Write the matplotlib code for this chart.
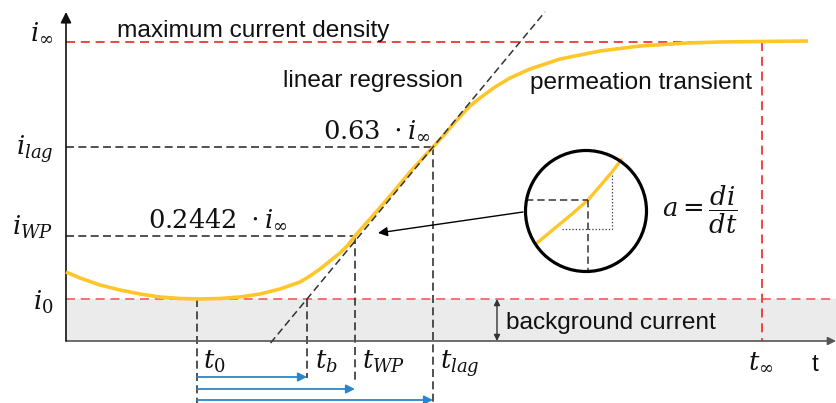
import matplotlib.pyplot as plt
from matplotlib.patches import Circle, Rectangle

# Characteristic times and current levels of the transient (arbitrary units)
T0 = 13.1
TB = 24.1
TWP = 28.9
TLAG = 36.7
TINF = 69.6

I0 = 4.2
IWP = 10.5
ILAG = 19.4
IINF = 29.9

curve_t = [0.0, 1.4, 3.4, 5.4, 7.4, 9.4, 11.4, 13.4, 15.4, 17.4, 19.4, 21.4, 23.4,
           24.4, 25.4, 26.4, 27.4, 28.2, 28.9, 29.6, 30.4, 32.4, 34.4, 36.7,
           37.9, 38.9, 40.4, 41.4, 42.9, 44.4, 46.4, 49.4, 53.4, 57.4, 62.1,
           65.4, 69.4, 74.2]
curve_i = [6.9, 6.3, 5.6, 5.1, 4.7, 4.4, 4.25, 4.2, 4.25, 4.4, 4.7, 5.2, 5.9,
           6.5, 7.2, 8.0, 8.8, 9.6, 10.5, 11.3, 12.2, 14.5, 16.9, 19.4,
           20.7, 21.9, 23.5, 24.3, 25.4, 26.3, 27.2, 28.2, 29.0, 29.5, 29.8,
           29.9, 29.95, 30.0]

# Magnified piece of the curve shown in the circular inset
zoom_t = [47.1, 48.9, 50.6, 52.2, 53.4, 54.6, 55.5]
zoom_i = [9.8, 11.3, 12.7, 14.1, 15.5, 16.9, 18.1]

YELLOW = "#ffc629"
BLUE = "#2a86c9"
RED = "#f03535"
PINK = "#f06a6a"
DARK = "#333333"

T_MAX = 77.1
I_MIN = -6.3

plt.rcParams["mathtext.fontset"] = "dejavuserif"
plt.rcParams["font.family"] = ["Liberation Sans", "DejaVu Sans"]

BLACK_DASH = (0, (4.8, 2.6))
RED_DASH = (0, (5.0, 3.2))


def _arrow(ax, start, end, *, color, lw=1.2, scale=14, style="-|>") -> None:
    ax.annotate("", xy=end, xytext=start,
                arrowprops=dict(arrowstyle=style, color=color, lw=lw,
                                mutation_scale=scale, shrinkA=0, shrinkB=0))


def main() -> None:
    fig = plt.figure(figsize=(8.37, 4.03), dpi=100)
    ax = fig.add_axes([0, 0, 1, 1])
    ax.set_xlim(-6.6, T_MAX)
    ax.set_ylim(-6.2, 34.1)
    ax.axis("off")

    # background current band and the two reference levels
    ax.add_patch(Rectangle((0, 0), T_MAX, I0, color="#ebebeb", lw=0, zorder=0))
    ax.plot([0, T_MAX], [I0, I0], color=PINK, lw=1.3, ls=RED_DASH)
    ax.plot([0, TINF], [IINF, IINF], color=RED, lw=1.3, ls=RED_DASH)
    ax.plot([TINF, TINF], [IINF, 0], color=RED, lw=1.3, ls=RED_DASH)

    # axes with arrow tips
    _arrow(ax, (0, 0), (T_MAX - 0.1, 0), color="#555555", lw=1.2, scale=12)
    _arrow(ax, (0, 0), (0, 32.9), color="#111111", lw=1.2, scale=16)

    # linear regression through t_b and the lag point
    slope = (ILAG - I0) / (TLAG - TB)
    reg_i = [-0.2, 32.9]
    reg_t = [TB + (v - I0) / slope for v in reg_i]
    ax.plot(reg_t, reg_i, color=DARK, lw=1.1, ls=BLACK_DASH, zorder=4)

    # helper lines to the characteristic points
    ax.plot([0, TLAG], [ILAG, ILAG], color=DARK, lw=1.2, ls=BLACK_DASH)
    ax.plot([TLAG, TLAG], [ILAG, I_MIN], color=DARK, lw=1.2, ls=BLACK_DASH)
    ax.plot([0, TWP], [IWP, IWP], color=DARK, lw=1.2, ls=BLACK_DASH)
    ax.plot([TWP, TWP], [IWP, -4.1], color=DARK, lw=1.2, ls=BLACK_DASH)
    ax.plot([T0, T0], [I0, I_MIN], color=DARK, lw=1.2, ls=BLACK_DASH)
    ax.plot([TB, TB], [I0, -3.7], color=DARK, lw=1.2, ls=BLACK_DASH)

    ax.plot(curve_t, curve_i, color=YELLOW, lw=2.6, solid_capstyle="butt",
            solid_joinstyle="round", zorder=3)

    # time spans measured from t_0
    for t_end, level in ((TB, -3.6), (TWP, -4.8), (TLAG, -5.9)):
        _arrow(ax, (T0, level), (t_end, level), color=BLUE, lw=1.3, scale=13)

    # background current marker
    _arrow(ax, (43.1, 0.0), (43.1, I0), color=DARK, lw=1.0, scale=9, style="<|-|>")

    # slope inset
    cx, cy, r = 52.0, 13.0, 6.05
    ax.add_patch(Circle((cx, cy), r, fill=False, ec="black", lw=2.3, zorder=5))
    ax.plot(zoom_t, zoom_i, color=YELLOW, lw=2.4, zorder=4)
    ax.plot([cx - r, 52.2], [14.1, 14.1], color=DARK, lw=1.1, ls=BLACK_DASH, zorder=4)
    ax.plot([52.2, 52.2], [14.1, cy - r], color=DARK, lw=1.1, ls=BLACK_DASH, zorder=4)
    ax.plot([49.6, 54.6, 54.6], [11.2, 11.2, 16.6], color=DARK, lw=0.9, ls=":", zorder=4)
    _arrow(ax, (45.7, 12.9), (31.2, 10.8), color="black", lw=1.0, scale=14)

    # text labels
    sans = dict(fontsize=17.6, color="#111111")
    ax.text(5.1, 30.4, "maximum current density", va="baseline", **sans)
    ax.text(21.7, 25.4, "linear regression", va="baseline", **sans)
    ax.text(46.4, 25.2, "permeation transient", va="baseline", **sans)
    ax.text(44.0, 1.2, "background current", va="baseline", **sans)
    ax.text(74.6, -3.0, "t", va="baseline", **sans)

    math = dict(fontsize=18.5, color="#111111")
    ax.text(25.7, 20.3, r"$0.63\ \cdot i_{\infty}$", va="baseline", **math)
    ax.text(8.2, 11.4, r"$0.2442\ \cdot i_{\infty}$", va="baseline", **math)
    ax.text(59.6, 13.1, r"$a = \dfrac{di}{dt}$", va="center", **math)

    for label, level in ((r"$i_{\infty}$", 30.1), (r"$i_{lag}$", 18.6),
                         (r"$i_{WP}$", 10.6), (r"$i_0$", 3.1)):
        ax.text(-1.3, level, label, ha="right", va="baseline", **math)

    for label, t in ((r"$t_0$", 13.7), (r"$t_b$", 24.9), (r"$t_{WP}$", 29.6),
                     (r"$t_{lag}$", 37.4), (r"$t_{\infty}$", 68.2)):
        ax.text(t, -2.8, label, ha="left", va="baseline", **math)

    fig.savefig("out.png", dpi=100, facecolor="white")
    plt.close(fig)


if __name__ == "__main__":
    main()
